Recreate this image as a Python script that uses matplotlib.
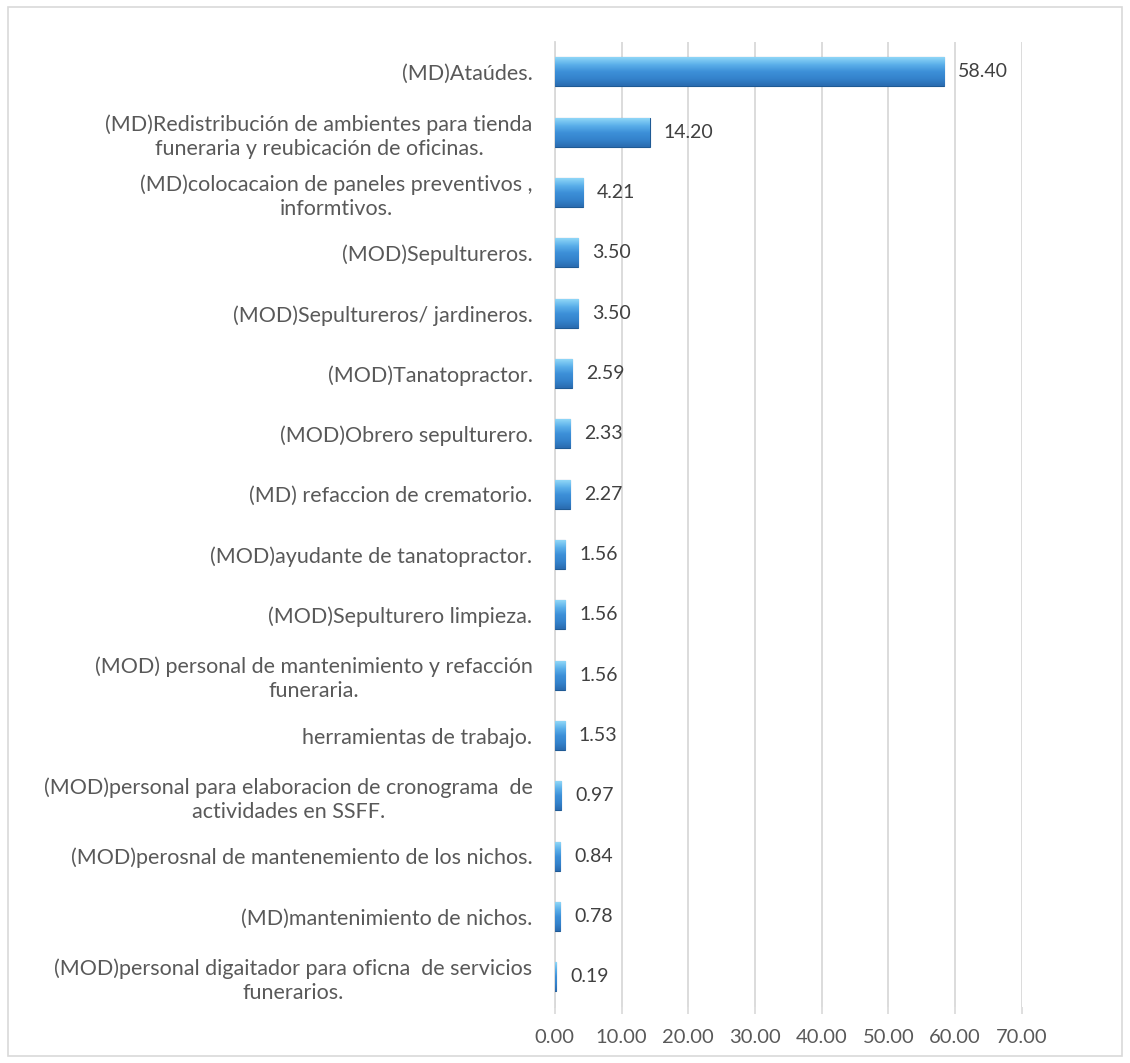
import numpy as np
import matplotlib.pyplot as plt
from matplotlib.colors import LinearSegmentedColormap
from matplotlib.patches import Rectangle

# datos (de arriba hacia abajo)
categorias = [
    "(MD)Ataúdes.",
    "(MD)Redistribución de ambientes para tienda\nfuneraria y reubicación de oficinas.",
    "(MD)colocacaion de paneles preventivos ,\ninformtivos.",
    "(MOD)Sepultureros.",
    "(MOD)Sepultureros/ jardineros.",
    "(MOD)Tanatopractor.",
    "(MOD)Obrero sepulturero.",
    "(MD) refaccion de crematorio.",
    "(MOD)ayudante de tanatopractor.",
    "(MOD)Sepulturero limpieza.",
    "(MOD) personal de mantenimiento y refacción\nfuneraria.",
    "herramientas de trabajo.",
    "(MOD)personal para elaboracion de cronograma  de\nactividades en SSFF.",
    "(MOD)perosnal de mantenemiento de los nichos.",
    "(MD)mantenimiento de nichos.",
    "(MOD)personal digaitador para oficna  de servicios\nfunerarios.",
]
valores = [58.40, 14.20, 4.21, 3.50, 3.50, 2.59, 2.33, 2.27,
           1.56, 1.56, 1.56, 1.53, 0.97, 0.84, 0.78, 0.19]
ticks_x = np.arange(0, 71, 10)

plt.rcParams['font.family'] = ['Lato', 'DejaVu Sans']

fig = plt.figure(figsize=(11.3, 10.63), dpi=100)
ax = fig.add_axes([0.491, 0.0527, 0.4133, 0.908])

y = np.arange(len(categorias))
barras = ax.barh(y, valores, height=0.48, color='#3a8bd3',
                 edgecolor='#1f5a94', linewidth=0.8, zorder=3)

# degradado tipo bisel
cmap = LinearSegmentedColormap.from_list(
    'bisel', ['#8fd6f7', '#5cb0ea', '#3d90d8', '#3482cc', '#2a6cb0'])
grad = np.linspace(0, 1, 64).reshape(-1, 1)
for b in barras:
    x0, y0, w, h = b.get_x(), b.get_y(), b.get_width(), b.get_height()
    im = ax.imshow(grad, cmap=cmap, aspect='auto', zorder=3.5,
                   extent=[x0, x0 + w, y0 + h, y0], interpolation='bilinear')
    im.set_clip_path(b)

for b, v in zip(barras, valores):
    ax.annotate(f"{v:.2f}", (b.get_width(), b.get_y() + b.get_height() / 2),
                xytext=(10, 0), textcoords='offset points',
                va='center', ha='left', fontsize=14, color='#404040')

ax.set_yticks(y)
ax.set_yticklabels(categorias, multialignment='center', linespacing=1.25)
ax.set_ylim(len(categorias) - 0.5, -0.5)
ax.set_xlim(0, 70)
ax.set_xticks(ticks_x)
ax.set_xticklabels([f"{t:.2f}" for t in ticks_x])

ax.tick_params(axis='y', length=0, pad=16, labelsize=15.5, labelcolor='#595959')
ax.tick_params(axis='x', length=5, width=1.2, color='#d9d9d9', pad=11,
               labelsize=14.5, labelcolor='#595959')
ax.grid(axis='x', color='#d9d9d9', linewidth=1.3, zorder=0)
for s in ['top', 'right', 'bottom']:
    ax.spines[s].set_visible(False)
ax.spines['left'].set_color('#d9d9d9')
ax.spines['left'].set_linewidth(1.3)

# borde del gráfico
fig.patches.append(Rectangle((0.007, 0.007), 0.986, 0.986, transform=fig.transFigure,
                             fill=False, edgecolor='#d9d9d9', linewidth=1.2))

fig.savefig("out.png", dpi=100)
